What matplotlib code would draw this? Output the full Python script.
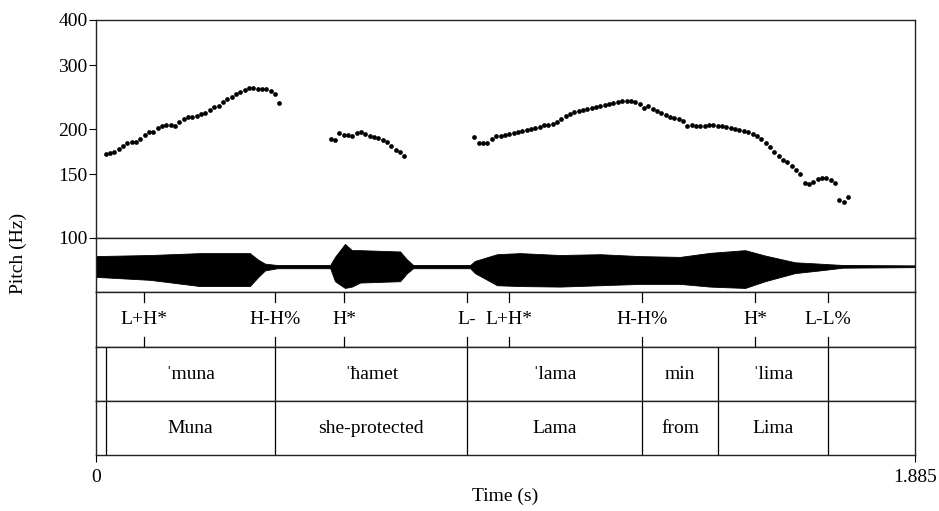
import matplotlib
matplotlib.use('Agg')
import matplotlib.pyplot as plt
import numpy as np

plt.rcParams['font.family'] = ['Liberation Serif', 'DejaVu Serif']

# --- datos ---
dur = 1.885
paso = 0.01  # paso de análisis de pitch (s)

seg1_ini = 0.022
seg1_hz = [170.6, 171.3, 173.2, 176.1, 179.9, 182.6, 183.7, 184.5, 187.7, 192.5,
           195.8, 196.7, 201.7, 204.3, 205.2, 204.7, 203.9, 209.1, 213.6, 215.4,
           216.3, 217.2, 219.6, 221.9, 225.7, 229.6, 232.0, 237.0, 242.0, 245.6,
           249.3, 253.1, 256.3, 259.0, 259.6, 258.5, 257.4, 257.4, 254.1, 249.3,
           236.5]

seg2_ini = 0.540
seg2_hz = [187.7, 186.5, 194.6, 192.9, 192.1, 191.7, 195.0, 195.8, 194.1, 191.3,
           190.1, 188.5, 186.5, 183.7, 179.5, 175.4, 172.8, 168.1]

seg3_ini = 0.871
seg3_hz = [190.5, 182.6, 182.6, 183.4, 188.1, 191.3, 191.3, 192.5, 193.3, 194.6,
           196.2, 197.5, 199.2, 200.4, 201.7, 203.0, 204.7, 204.7, 206.0, 209.1,
           213.6, 217.2, 220.5, 222.4, 223.8, 225.7, 227.1, 229.1, 230.5, 231.5,
           233.0, 234.5, 236.5, 238.0, 239.0, 239.0, 239.0, 237.5, 234.0, 228.6,
           231.0, 227.6, 224.7, 221.9, 218.2, 216.3, 214.5, 213.6, 210.4, 204.3,
           204.7, 204.3, 203.9, 204.3, 204.7, 205.2, 204.3, 203.4, 202.6, 201.7,
           200.4, 199.2, 197.9, 196.2, 193.7, 190.9, 187.3, 183.4, 178.4, 173.2,
           168.0, 164.2, 161.8, 158.4, 154.1, 150.3, 142.2, 140.7, 142.8, 145.2,
           146.8, 146.5, 144.6, 141.6, 127.6, 125.5, 130.1]

# envolvente de la onda (amplitud normalizada)
onda_t = [0.000, 0.124, 0.239, 0.354, 0.373, 0.389, 0.417, 0.539, 0.550, 0.573,
          0.589, 0.608, 0.700, 0.716, 0.730, 0.861, 0.872, 0.923, 0.976, 1.068,
          1.160, 1.252, 1.344, 1.413, 1.494, 1.540, 1.609, 1.666, 1.719, 1.885]
onda_sup = [0.33, 0.37, 0.44, 0.44, 0.20, 0.05, 0.00, 0.00, 0.30, 0.78,
            0.55, 0.55, 0.50, 0.20, 0.00, 0.00, 0.15, 0.40, 0.44, 0.37,
            0.40, 0.33, 0.30, 0.45, 0.55, 0.35, 0.10, 0.05, 0.00, -0.02]
onda_inf = [-0.44, -0.55, -0.78, -0.78, -0.45, -0.20, -0.12, -0.12, -0.60, -0.85,
            -0.80, -0.65, -0.60, -0.30, -0.12, -0.12, -0.30, -0.75, -0.78, -0.80,
            -0.75, -0.70, -0.70, -0.80, -0.85, -0.60, -0.30, -0.20, -0.10, -0.08]

tonos_t = [0.110, 0.412, 0.571, 0.854, 0.950, 1.257, 1.517, 1.685]
tonos = ['L+H*', 'H-H%', 'H*', 'L-', 'L+H*', 'H-H%', 'H*', 'L-L%']

limites = [0.0, 0.023, 0.412, 0.854, 1.257, 1.432, 1.685, 1.885]
palabras = ['', 'ˈmuna', 'ˈħamet', 'ˈlama', 'min', 'ˈlima', '']
glosas = ['', 'Muna', 'she-protected', 'Lama', 'from', 'Lima', '']

fs = 14

# --- figura ---
fig = plt.figure(figsize=(9.39, 5.11), dpi=100)
W, H = 939, 511
x0, x1 = 96, 915


def eje(y_top, y_bot):
    return fig.add_axes([x0 / W, (H - y_bot) / H, (x1 - x0) / W, (y_bot - y_top) / H])


ax_p = eje(20, 238)
ax_o = eje(238, 292)
ax_t = eje(292, 347)
ax_w = eje(347, 401)
ax_g = eje(401, 455)

# pitch
for ini, hz in [(seg1_ini, seg1_hz), (seg2_ini, seg2_hz), (seg3_ini, seg3_hz)]:
    t = ini + paso * np.arange(len(hz))
    ax_p.plot(t, hz, 'o', color='black', markersize=3.4, markeredgewidth=0)
ax_p.set_yscale('log')
ax_p.set_ylim(100, 400)
ax_p.set_xlim(0, dur)
ax_p.set_yticks([100, 150, 200, 300, 400])
ax_p.set_yticklabels(['100', '150', '200', '300', '400'])
ax_p.minorticks_off()
ax_p.tick_params(axis='y', direction='out', length=5, pad=1, labelsize=fs)
ax_p.set_xticks([])

# onda
ax_o.fill_between(onda_t, onda_inf, onda_sup, color='black', linewidth=0.6)
ax_o.plot(onda_t, [(a + b) / 2 for a, b in zip(onda_sup, onda_inf)], color='black', lw=1.0)
ax_o.set_xlim(0, dur)
ax_o.set_ylim(-1, 1)
ax_o.set_xticks([])
ax_o.set_yticks([])

# tier de tonos
ax_t.set_xlim(0, dur)
ax_t.set_ylim(0, 1)
for tt, lab in zip(tonos_t, tonos):
    ax_t.plot([tt, tt], [0.82, 1], color='black', lw=0.9)
    ax_t.plot([tt, tt], [0, 0.18], color='black', lw=0.9)
    ax_t.text(tt, 0.5, lab, ha='center', va='center', fontsize=fs)
ax_t.set_xticks([])
ax_t.set_yticks([])

# tiers de palabras y glosas
for ax, labs in [(ax_w, palabras), (ax_g, glosas)]:
    ax.set_xlim(0, dur)
    ax.set_ylim(0, 1)
    for b in limites[1:-1]:
        ax.axvline(b, color='black', lw=0.9)
    for a, b, lab in zip(limites[:-1], limites[1:], labs):
        ax.text((a + b) / 2, 0.5, lab, ha='center', va='center', fontsize=fs)
    ax.set_xticks([])
    ax.set_yticks([])

ax_g.set_xticks([0, dur])
ax_g.set_xticklabels(['0', '1.885'])
ax_g.tick_params(axis='x', direction='out', length=5, pad=5, labelsize=fs)

for ax in [ax_p, ax_o, ax_t, ax_w, ax_g]:
    for sp in ax.spines.values():
        sp.set_linewidth(1.0)
        sp.set_color('#222222')

fig.text(18 / W, (H - 253) / H, 'Pitch (Hz)', rotation=90, ha='center', va='center', fontsize=fs)
fig.text((x0 + x1) / 2 / W, (H - 496) / H, 'Time (s)', ha='center', va='center', fontsize=fs)

fig.savefig('out.png', dpi=100)
